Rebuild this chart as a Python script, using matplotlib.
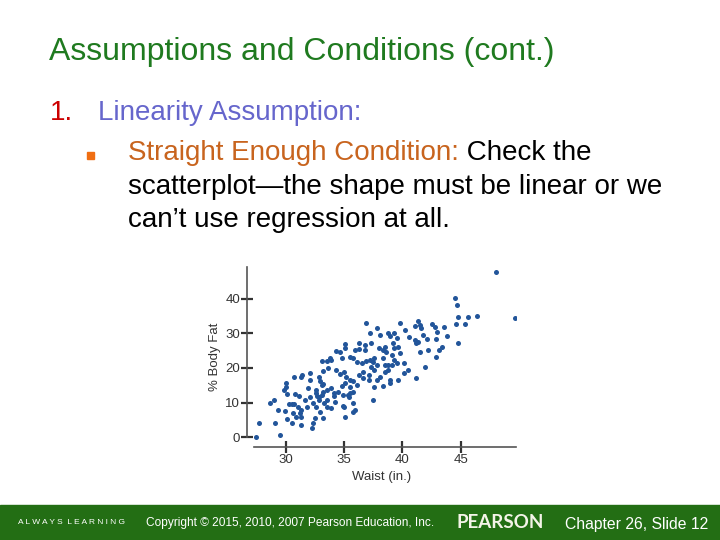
import matplotlib
matplotlib.use("Agg")
import matplotlib.pyplot as plt

# --- slide text ---
TITLE = "Assumptions and Conditions (cont.)"
ITEM_NUM = "1."
ITEM_TEXT = "Linearity Assumption:"
BULLET_HEAD = "Straight Enough Condition:"
BULLET_LINES = [" Check the",
                "scatterplot\u2014the shape must be linear or we",
                "can\u2019t use regression at all."]
FOOTER_LEFT = "A L W A Y S  L E A R N I N G"
FOOTER_COPY = "Copyright \u00a9 2015, 2010, 2007 Pearson Education, Inc."
FOOTER_BRAND = "PEARSON"
FOOTER_RIGHT = "Chapter 26, Slide 12"

# --- scatter data ---
waist = [
    # left part
    27.4, 27.7, 28.6, 29.0, 29.1, 29.3, 29.5, 29.8, 30.0, 30.0, 30.1, 29.9,
    30.1, 30.3, 30.5, 30.7, 30.5, 30.6, 30.7, 30.8, 30.9, 31.0, 31.1, 31.2,
    31.3, 31.3, 31.3, 31.4, 31.3, 31.6, 31.8, 31.9, 32.1, 32.2, 32.1, 32.1,
    32.3, 32.3, 32.5, 32.6, 32.6, 32.7, 32.6, 32.8, 32.8, 32.8, 32.9,
    # middle
    35.1, 35.1, 34.3, 34.6, 33.8, 33.9, 33.5, 35.9, 36.3, 36.8, 34.8, 35.5,
    35.8, 36.1, 36.5, 36.9, 33.1, 33.2, 33.6, 34.3, 34.6, 35.0, 35.2, 35.5,
    35.8, 36.3, 36.6, 37.1, 32.9, 33.2, 33.5, 33.9, 34.1, 34.5, 34.8, 35.1,
    34.9, 35.5, 35.8, 36.1, 36.6, 37.1, 33.1, 33.5, 34.1, 34.2, 34.9, 35.8,
    35.9, 37.5, 33.2, 35.1, 36.3, 36.8, 36.9,
    33.3, 33.5, 33.9, 35.0, 35.8, 35.3, 35.4, 35.5, 33.2, 33.1,
    # right part
    39.8, 41.3, 41.1, 41.5, 41.6, 42.5, 42.8, 37.8, 37.2, 38.1, 38.8, 38.9,
    39.3, 39.5, 40.2, 40.6, 41.1, 41.2, 41.3, 41.8, 42.1, 42.9, 37.3, 38.0,
    38.3, 38.6, 38.5, 39.2, 39.3, 39.6, 39.8, 39.1, 39.3, 41.5, 42.2, 43.1,
    42.9, 37.2, 37.5, 37.6, 38.3, 37.3, 37.6, 37.8, 38.5, 38.8, 39.1, 39.5,
    38.5, 38.8, 40.1, 40.5, 40.1, 41.9, 37.8, 38.1, 38.9, 39.6, 41.2, 37.6,
    38.3, 38.9, 43.0,
    # far right
    43.4, 43.6, 43.8, 44.5, 44.6, 44.7, 44.8, 44.8, 45.4, 45.6, 46.4, 48.0, 49.7,
]
body_fat = [
    0.2, 4.2, 10.0, 10.8, 4.0, 7.9, 0.8, 13.7, 14.6, 15.8, 12.4, 7.7,
    5.2, 9.6, 9.6, 9.6, 4.0, 6.9, 17.5, 12.5, 6.0, 8.8, 11.9, 6.9,
    6.0, 7.9, 17.5, 18.0, 3.6, 10.8, 8.8, 14.1, 11.7, 2.8, 16.5, 18.5,
    9.8, 4.0, 5.5, 12.9, 13.7, 11.9, 8.7, 17.3, 10.8, 11.6, 7.4,
    27.0, 25.7, 25.0, 24.5, 22.8, 22.2, 21.9, 25.2, 25.4, 25.2, 22.8, 23.3,
    22.8, 21.6, 21.4, 21.9, 21.9, 19.0, 19.9, 19.5, 18.3, 18.7, 17.5, 16.6,
    16.1, 18.0, 18.7, 18.0, 16.1, 15.4, 13.7, 14.2, 12.7, 13.2, 14.7, 15.6,
    12.3, 12.9, 13.2, 15.1, 17.1, 16.6, 12.3, 10.8, 11.8, 10.3, 8.9, 9.8,
    7.9, 10.8, 5.5, 6.0, 27.3, 26.7, 32.9,
    9.8, 8.8, 8.4, 8.8, 7.4, 12.2, 11.7, 14.6, 13.2, 15.1,
    32.9, 33.6, 32.1, 32.4, 31.4, 32.7, 31.9, 31.4, 30.0, 29.5, 30.0, 29.2,
    30.0, 28.5, 31.0, 29.0, 28.1, 27.1, 27.6, 29.5, 28.3, 28.3, 27.1, 25.7,
    25.2, 24.7, 26.1, 27.1, 25.7, 26.1, 24.2, 23.7, 22.3, 24.7, 25.2, 25.2,
    23.3, 22.3, 21.8, 22.8, 22.8, 20.4, 19.4, 20.9, 20.9, 20.9, 20.9, 21.3,
    18.9, 19.4, 21.3, 19.4, 18.5, 20.4, 16.5, 17.3, 16.5, 16.5, 17.0, 14.6,
    14.8, 15.6, 30.5,
    26.0, 31.9, 29.2, 40.1, 32.7, 38.2, 34.8, 27.3, 32.7, 34.6, 35.0, 47.6, 34.5,
]
x_ticks = [30, 35, 40, 45]
y_ticks = [0, 10, 20, 30, 40]

W, H = 720, 540
FONT = "Liberation Sans"


def fx(px):
    return px / W


def fy(py):
    return 1 - py / H


fig = plt.figure(figsize=(7.2, 5.4), dpi=100)
fig.patch.set_facecolor("white")

# title + bullets
fig.text(fx(49), fy(60), TITLE, color="#1f7a1f", fontsize=23,
         family=FONT, va="baseline")
fig.text(fx(50), fy(120.5), ITEM_NUM, color="#cc0000", fontsize=20,
         family=FONT, va="baseline")
fig.text(fx(98), fy(120.5), ITEM_TEXT, color="#6666cc", fontsize=20,
         family=FONT, va="baseline")
fig.patches.append(plt.Rectangle((fx(87), fy(159)), 7 / W, 7 / H,
                                 transform=fig.transFigure, color="#f06e12"))
head = fig.text(fx(128), fy(160), BULLET_HEAD, color="#c8641e", fontsize=20,
                family=FONT, va="baseline")
renderer = fig.canvas.get_renderer()
bb = head.get_window_extent(renderer)
fig.text(bb.x1 / W, fy(160), BULLET_LINES[0], color="black", fontsize=20,
         family=FONT, va="baseline")
fig.text(fx(128), fy(194), BULLET_LINES[1], color="black", fontsize=20,
         family=FONT, va="baseline")
fig.text(fx(128), fy(227), BULLET_LINES[2], color="black", fontsize=20,
         family=FONT, va="baseline")

# scatterplot
ax = fig.add_axes([fx(247), fy(446.7), (516 - 247) / W, (446.7 - 267) / H])
ax.scatter(waist, body_fat, s=13, color="#22559a", linewidths=0, zorder=3)
ax.set_xlim(26.66, 49.75)
ax.set_ylim(-2.7, 49.1)
ax.set_xticks(x_ticks)
ax.set_yticks(y_ticks)
for side in ["top", "right"]:
    ax.spines[side].set_visible(False)
ax.spines["left"].set_bounds(0, 49.1)
ax.spines["bottom"].set_bounds(27.3, 49.75)
for side in ["left", "bottom"]:
    ax.spines[side].set_color("#555555")
    ax.spines[side].set_linewidth(1.2)
ax.tick_params(direction="inout", length=8, width=1.6, color="#333333",
               labelsize=9.5, labelcolor="#333333", pad=1)
for lab in ax.get_xticklabels() + ax.get_yticklabels():
    lab.set_family(FONT)
ax.set_xlabel("Waist (in.)", fontsize=9.5, family=FONT, color="#333333", labelpad=4)
ax.set_ylabel("% Body Fat", fontsize=9.5, family=FONT, color="#333333", labelpad=3)

# footer bar
fig.patches.append(plt.Rectangle((0, 0), 1, 35 / H, transform=fig.transFigure,
                                 color="#236e14"))
fig.text(fx(18), fy(523), FOOTER_LEFT, color="white", fontsize=6,
         family=FONT, va="center")
fig.text(fx(146), fy(523), FOOTER_COPY, color="white", fontsize=8.6,
         family=FONT, va="center")
fig.text(fx(456), fy(523), FOOTER_BRAND, color="#f4f4e8", fontsize=13.5,
         family="Lato", weight="bold", va="center")
fig.text(fx(565), fy(524), FOOTER_RIGHT, color="white", fontsize=11.3,
         family=FONT, va="center")

fig.savefig("out.png", dpi=100)
